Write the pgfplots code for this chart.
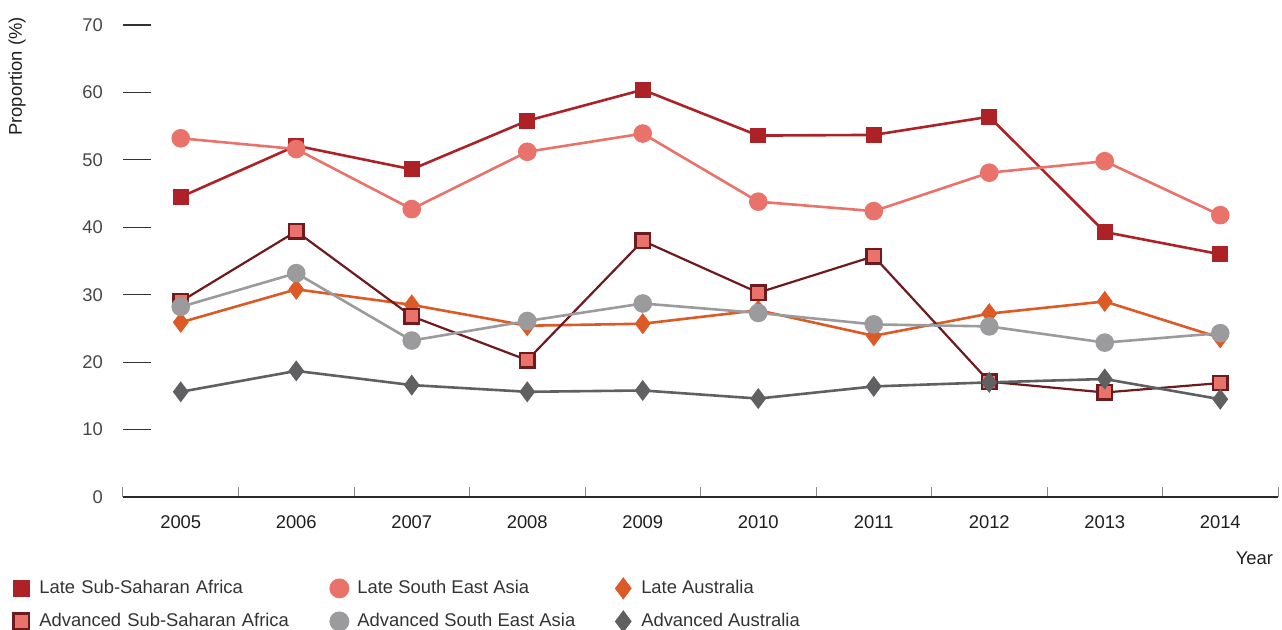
\documentclass[border=0pt]{standalone}
\usepackage{fontspec}
\setmainfont{Liberation Sans}
\usepackage{pgfplots}
\pgfplotsset{compat=1.18}
\definecolor{lssa}{HTML}{AD2226}
\definecolor{lsea}{HTML}{E9736A}
\definecolor{laus}{HTML}{DB5A25}
\definecolor{assa}{HTML}{6E1A1F}
\definecolor{asea}{HTML}{9B9B9D}
\definecolor{aaus}{HTML}{606062}
\definecolor{axisc}{HTML}{2A2A2A}
\definecolor{txt}{HTML}{333333}
\newcommand{\fs}{\fontsize{9.2bp}{11bp}\selectfont}
\begin{document}
\begin{tikzpicture}
\begin{axis}[
  scale only axis, width=577.5bp, height=236bp,
  xmin=-0.5, xmax=9.5, ymin=0, ymax=70,
  clip=false,
  axis x line*=bottom, axis y line*=left,
  x axis line style={line width=1.4bp, draw=axisc, -},
  y axis line style={draw=none, -},
  xtick={0,1,2,3,4,5,6,7,8,9},
  xticklabels={2005,2006,2007,2008,2009,2010,2011,2012,2013,2014},
  minor xtick={-0.5,0.5,1.5,2.5,3.5,4.5,5.5,6.5,7.5,8.5,9.5},
  ytick={0,10,20,30,40,50,60,70},
  tick align=inside,
  major tick length=14bp, minor tick length=5bp,
  major x tick style={draw=none},
  minor x tick style={draw=black!45, line width=0.5bp},
  major y tick style={draw=black!80, line width=0.6bp},
  /pgf/number format/assume math mode=true,
  ticklabel style={font=\fs},
  xticklabel style={text=black!88, yshift=-6bp},
  yticklabel style={text=black!72, xshift=-6.5bp},
  every axis y label/.style={at={([xshift=-53bp,yshift=7.5bp]rel axis cs:0,1)}, rotate=90, anchor=east, font=\fs, text=black!88},
  ylabel={Proportion (\%)},
  every axis x label/.style={at={([xshift=1bp,yshift=-30.5bp]rel axis cs:1,0)}, anchor=east, font=\fs, text=black!88},
  xlabel={Year},
  legend columns=3,
  legend style={draw=none, fill=none, font=\fs, text=txt,
    at={([xshift=-55.5bp,yshift=-39.5bp]rel axis cs:0,0)}, anchor=north west,
    inner sep=0pt, row sep=4.5bp,
    nodes={inner sep=1.5bp, text height=7bp, text depth=2bp},
    /tikz/every odd column/.append style={column sep=3bp},
    /tikz/every even column/.append style={column sep=18bp}},
  legend cell align=left,
  legend image code/.code={\path[draw=none, fill=none, use as bounding box] (0bp,-4.5bp) rectangle (9bp,4.5bp); \path[#1, draw=none, fill=none] plot coordinates {(4.5bp,0bp)};},
  legend image post style={every mark/.append style={scale=1.08}},
]
\addplot[lssa, line width=1.3bp, mark=square*, mark size=3.7bp, mark options={draw=lssa, fill=lssa, line width=0.5bp, rounded corners=1bp}]
  coordinates {(0,44.5)(1,52.1)(2,48.6)(3,55.8)(4,60.4)(5,53.6)(6,53.7)(7,56.4)(8,39.3)(9,36.0)};
\addlegendentry[text width=126bp]{Late Sub-Saharan Africa}
\addplot[lsea, line width=1.3bp, mark=*, mark size=4bp, mark options={draw=lsea, fill=lsea}]
  coordinates {(0,53.2)(1,51.6)(2,42.7)(3,51.2)(4,53.9)(5,43.8)(6,42.4)(7,48.1)(8,49.8)(9,41.8)};
\addlegendentry{Late South East Asia}
\addplot[laus, line width=1.3bp, mark=diamond*, mark size=4.2bp, mark options={draw=laus, fill=laus}]
  coordinates {(0,25.9)(1,30.8)(2,28.5)(3,25.4)(4,25.7)(5,27.7)(6,23.9)(7,27.2)(8,29.0)(9,23.6)};
\addlegendentry{Late Australia}
\addplot[assa, line width=1.1bp, mark=square*, mark size=3.6bp, mark options={draw=assa, fill=lsea, line width=1.2bp, rounded corners=1bp}]
  coordinates {(0,29.0)(1,39.4)(2,26.8)(3,20.3)(4,38.0)(5,30.3)(6,35.7)(7,17.1)(8,15.5)(9,16.9)};
\addlegendentry[text width=126bp]{Advanced Sub-Saharan Africa}
\addplot[asea, line width=1.3bp, mark=*, mark size=4bp, mark options={draw=asea, fill=asea}]
  coordinates {(0,28.2)(1,33.2)(2,23.2)(3,26.1)(4,28.7)(5,27.3)(6,25.6)(7,25.3)(8,22.9)(9,24.3)};
\addlegendentry{Advanced South East Asia}
\addplot[aaus, line width=1.3bp, mark=diamond*, mark size=4.2bp, mark options={draw=aaus, fill=aaus}]
  coordinates {(0,15.6)(1,18.7)(2,16.6)(3,15.6)(4,15.8)(5,14.6)(6,16.4)(7,17.0)(8,17.5)(9,14.5)};
\addlegendentry{Advanced Australia}
\coordinate (SW) at (rel axis cs:0,0);
\end{axis}
\pgfresetboundingbox
\path (SW) ++(-61.5bp,-66.5bp) rectangle ++(641bp,315bp);
\end{tikzpicture}
\end{document}
